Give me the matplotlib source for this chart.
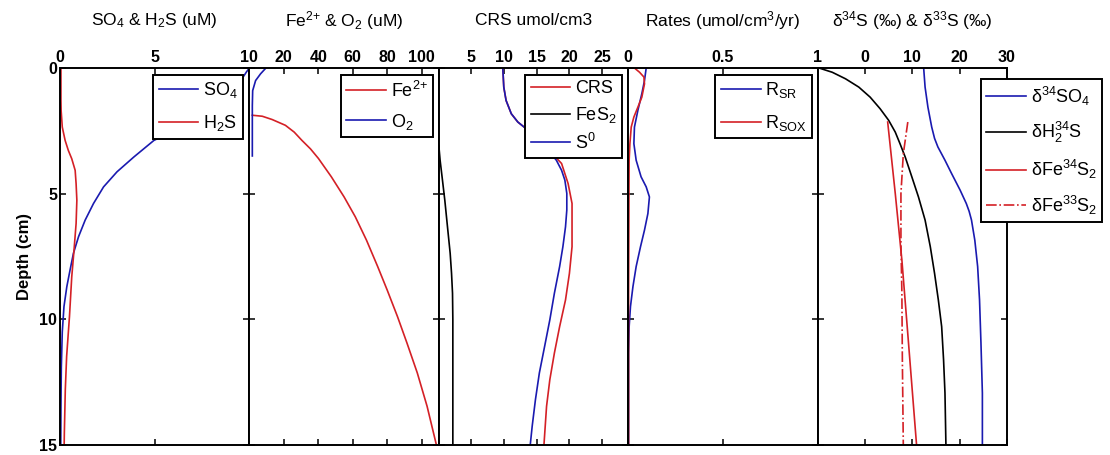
import matplotlib
matplotlib.use("Agg")
import matplotlib.pyplot as plt

plt.rcParams['font.family'] = ['Liberation Sans', 'DejaVu Sans']
plt.rcParams['mathtext.fontset'] = 'custom'
plt.rcParams['mathtext.rm'] = 'Liberation Sans'
plt.rcParams['mathtext.it'] = 'Liberation Sans:italic'
plt.rcParams['mathtext.bf'] = 'Liberation Sans:bold'

BLUE = '#1a1ab0'
RED = '#d42026'
BLACK = '#000000'

# ---------------- data ----------------
# Panel 1: SO4 & H2S (uM)
so4_depth = [0.0, 0.15, 0.3, 0.6, 1.0, 1.5, 2.0, 2.4, 2.88, 3.54, 4.13, 4.73, 5.39, 6.05, 6.71, 7.37, 8.04, 8.70, 9.49, 10.5, 11.9, 13.5, 15.0]
so4_conc = [10.0, 9.85, 9.72, 9.45, 9.0, 8.3, 7.3, 6.3, 4.96, 3.90, 3.01, 2.30, 1.77, 1.33, 0.98, 0.71, 0.53, 0.36, 0.21, 0.12, 0.07, 0.05, 0.04]
h2s_depth = [0.0, 0.5, 1.29, 1.69, 2.35, 2.88, 3.28, 3.61, 4.07, 4.60, 5.26, 6.19, 7.25, 8.31, 9.89, 11.48, 12.8, 14.5, 15.0]
h2s_conc = [0.05, 0.05, 0.05, 0.06, 0.12, 0.27, 0.44, 0.62, 0.80, 0.85, 0.89, 0.85, 0.74, 0.62, 0.50, 0.35, 0.28, 0.23, 0.22]

# Panel 2: Fe2+ & O2 (uM)
fe_depth = [1.88, 1.92, 2.05, 2.28, 2.55, 2.88, 3.22, 3.60, 4.33, 5.13, 5.92, 6.85, 7.90, 8.83, 9.89, 10.94, 12.13, 13.46, 14.91, 15.0]
fe_conc = [1.7, 7.5, 13.2, 20.9, 26.0, 30.5, 35.5, 40.1, 47.6, 55.0, 61.5, 68.0, 74.5, 80.0, 86.0, 91.5, 97.5, 103.2, 108.3, 108.6]
o2_depth = [0.0, 0.23, 0.5, 0.9, 1.5, 2.5, 3.5]
o2_conc = [9.6, 6.5, 3.6, 1.9, 1.7, 1.7, 1.7]

# Panel 3: CRS umol/cm3
fes2_depth = [3.08, 3.67, 4.46, 5.26, 6.32, 7.37, 8.17, 8.96, 10.0, 12.0, 15.0]
fes2_conc = [0.0, 0.2, 0.56, 0.92, 1.33, 1.74, 1.95, 2.1, 2.15, 2.15, 2.15]
s0_depth = [0.0, 0.76, 1.29, 1.82, 2.15, 2.42, 2.8, 3.2, 3.67, 4.07, 4.46, 4.99, 5.65, 6.32, 7.11, 7.9, 8.96, 10.02, 11.08, 12.13, 13.19, 14.25, 15.0]
s0_conc = [9.8, 9.95, 10.3, 11.1, 12.1, 13.4, 14.9, 16.5, 18.0, 18.8, 19.3, 19.6, 19.6, 19.4, 19.0, 18.5, 17.7, 17.0, 16.2, 15.4, 14.8, 14.3, 14.0]
crs_depth = [0.0, 0.76, 1.29, 1.82, 2.15, 2.42, 2.8, 3.2, 3.80, 4.60, 5.39, 6.32, 7.11, 8.17, 9.23, 10.29, 11.34, 12.40, 13.46, 15.0]
crs_conc = [9.8, 9.95, 10.3, 11.1, 12.1, 13.4, 14.9, 16.6, 18.8, 19.8, 20.4, 20.4, 20.4, 20.0, 19.4, 18.5, 17.7, 17.0, 16.5, 16.1]

# Panel 4: Rates (umol/cm3/yr)
rsr_depth = [0.0, 0.5, 1.02, 1.69, 2.35, 3.01, 3.67, 4.33, 4.73, 5.13, 5.79, 6.45, 7.11, 7.9, 8.7, 9.49, 10.29, 11.34, 15.0]
rsr_rate = [0.095, 0.086, 0.072, 0.051, 0.033, 0.030, 0.042, 0.068, 0.095, 0.112, 0.104, 0.086, 0.065, 0.042, 0.025, 0.012, 0.005, 0.002, 0.002]
rsox_depth = [0.0, 0.17, 0.36, 0.63, 1.16, 1.56, 1.95, 2.35, 3.01, 3.67, 4.99, 8.96, 15.0]
rsox_rate = [0.033, 0.060, 0.083, 0.086, 0.072, 0.051, 0.030, 0.016, 0.009, 0.005, 0.004, 0.002, 0.002]

# Panel 5: delta34S & delta33S (permil)
d34so4_depth = [0.0, 0.76, 1.56, 2.35, 2.8, 3.14, 3.67, 4.2, 4.86, 5.39, 5.7, 6.05, 6.85, 7.9, 9.23, 10.94, 12.93, 15.0]
d34so4_val = [12.4, 12.7, 13.3, 14.1, 14.7, 15.4, 16.9, 18.3, 20.1, 21.4, 22.0, 22.5, 23.2, 23.8, 24.2, 24.5, 24.8, 24.8]
dh2s_depth = [0.0, 0.17, 0.43, 0.76, 1.16, 1.62, 2.08, 2.55, 3.01, 3.54, 4.33, 5.13, 6.05, 7.11, 8.17, 9.23, 10.29, 11.6, 12.93, 15.0]
dh2s_val = [-9.7, -6.9, -4.1, -1.3, 1.1, 3.2, 5.0, 6.4, 7.4, 8.5, 9.9, 11.3, 12.7, 13.8, 14.7, 15.5, 16.2, 16.6, 16.9, 17.1]
dfe34_depth = [2.15, 4.99, 7.64, 10.94, 15.0]
dfe34_val = [4.8, 6.4, 7.8, 9.2, 10.9]
dfe33_depth = [2.15, 3.42, 4.99, 6.97, 8.96, 11.6, 15.0]
dfe33_val = [9.05, 8.1, 7.6, 7.6, 7.8, 7.9, 8.1]

titles = [r'SO$_4$ & H$_2$S (uM)', r'Fe$^{2{+}}$ & O$_2$ (uM)', 'CRS umol/cm3',
          r'Rates (umol/cm$^3$/yr)', r'δ$^{34}$S (‰) & δ$^{33}$S (‰)']
xlims = [(0, 10), (0, 110), (0, 29), (0, 1), (-10, 30)]
xticks = [[0, 5, 10], [20, 40, 60, 80, 100], [5, 10, 15, 20, 25], [0, 0.5, 1], [0, 10, 20, 30]]
xticklabels = [['0', '5', '10'], ['20', '40', '60', '80', '100'], ['5', '10', '15', '20', '25'],
               ['0', '0.5', '1'], ['0', '10', '20', '30']]
yticks = [0, 5, 10, 15]
yticklabels = ['0', '5', '10', '15']

# ---------------- figure ----------------
W, H = 1110, 455
fig = plt.figure(figsize=(W / 100, H / 100), dpi=100)

left_px = 60.0
panel_w = 189.4
top_px = 68.0
bot_px = 445.0
TICK_FS = 11.5
TITLE_FS = 12.5
LEG_FS = 13

axes = []
for i in range(5):
    x0 = left_px + i * panel_w
    ax = fig.add_axes([x0 / W, 1 - bot_px / H, panel_w / W, (bot_px - top_px) / H])
    ax.set_xlim(*xlims[i])
    ax.set_ylim(15, 0)
    ax.xaxis.tick_top()
    ax.tick_params(axis='both', which='both', direction='in', length=4, width=1.1,
                   top=True, bottom=True, left=True, right=True, labelsize=TICK_FS, pad=2)
    ax.set_xticks(xticks[i])
    ax.set_xticklabels(xticklabels[i], fontweight='bold')
    ax.set_yticks(yticks)
    if i == 0:
        ax.set_yticklabels(yticklabels, fontweight='bold')
    else:
        ax.set_yticklabels([])
    for s in ax.spines.values():
        s.set_linewidth(1.4)
    ax.text(0.5, 1 + (top_px - 21) / (bot_px - top_px), titles[i], transform=ax.transAxes,
            ha='center', va='center', fontsize=TITLE_FS)
    axes.append(ax)

axes[0].set_ylabel('Depth (cm)', fontsize=12, fontweight='bold', labelpad=5)

lw = 1.2
a = axes[0]
a.plot(so4_conc, so4_depth, color=BLUE, lw=lw, label=r'SO$_4$')
a.plot(h2s_conc, h2s_depth, color=RED, lw=lw, label=r'H$_2$S')

a = axes[1]
a.plot(fe_conc, fe_depth, color=RED, lw=lw, label=r'Fe$^{2{+}}$')
a.plot(o2_conc, o2_depth, color=BLUE, lw=lw, label=r'O$_2$')

a = axes[2]
a.plot(crs_conc, crs_depth, color=RED, lw=lw, label='CRS')
a.plot(fes2_conc, fes2_depth, color=BLACK, lw=lw, label=r'FeS$_2$')
a.plot(s0_conc, s0_depth, color=BLUE, lw=lw, label=r'S$^0$')

a = axes[3]
a.plot(rsr_rate, rsr_depth, color=BLUE, lw=lw, label=r'R$_{\rm SR}$')
a.plot(rsox_rate, rsox_depth, color=RED, lw=lw, label=r'R$_{\rm SOX}$')

a = axes[4]
a.plot(d34so4_val, d34so4_depth, color=BLUE, lw=lw, label=r'δ$^{34}$SO$_4$')
a.plot(dh2s_val, dh2s_depth, color=BLACK, lw=lw, label=r'δH$_2^{34}$S')
a.plot(dfe34_val, dfe34_depth, color=RED, lw=lw, label=r'δFe$^{34}$S$_2$')
a.plot(dfe33_val, dfe33_depth, color=RED, lw=lw, ls='-.', label=r'δFe$^{33}$S$_2$')

# legends (anchor given in pixels)
leg_specs = [
    (0, (243, 75), 'upper right', 0.72),
    (1, (433, 75), 'upper right', 0.62),
    (2, (622, 75), 'upper right', 0.42),
    (3, (812, 75), 'upper right', 0.7),
    (4, (981, 79), 'upper left', 0.7),
]
for idx, (px, py), loc, ls_ in leg_specs:
    leg = axes[idx].legend(loc=loc, bbox_to_anchor=(px / W, 1 - py / H),
                           bbox_transform=fig.transFigure, borderaxespad=0,
                           fontsize=LEG_FS, frameon=True, fancybox=False, framealpha=1,
                           facecolor='white', edgecolor='black',
                           handlelength=2.2, handletextpad=0.25,
                           labelspacing=ls_, borderpad=0.3)
    leg.get_frame().set_linewidth(1.4)
    leg.set_zorder(10)

fig.savefig('out.png', dpi=100)
